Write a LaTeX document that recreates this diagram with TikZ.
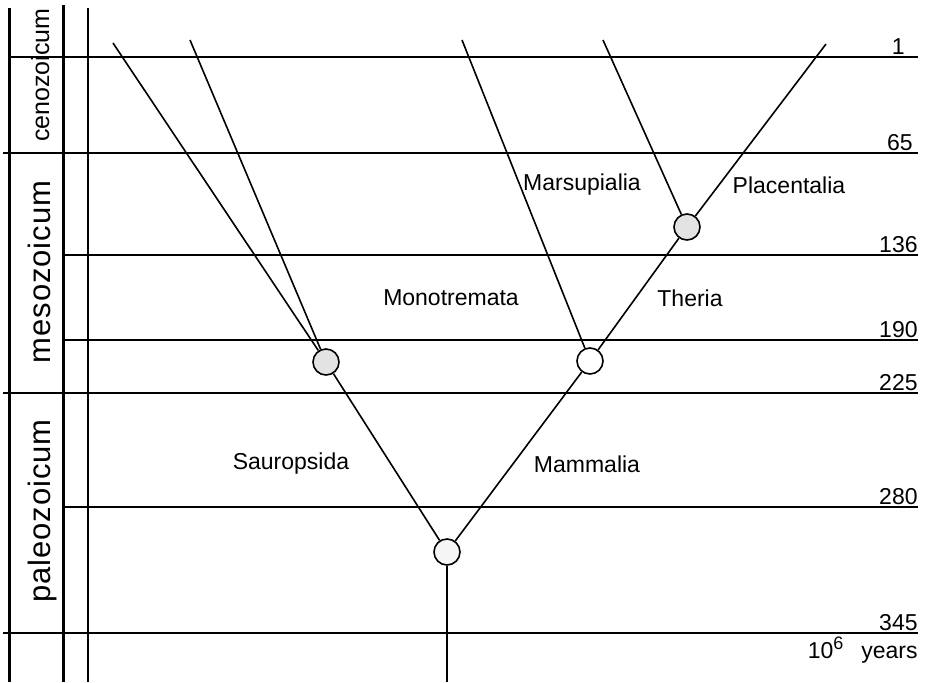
\documentclass[tikz,border=0pt]{standalone}
\usepackage{fontspec}
\setmainfont{Liberation Sans}
\newfontfamily\erafont[LetterSpace=3]{Liberation Sans}

\tikzset{
  fork/.style={circle,draw,line width=0.8pt,minimum size=13pt,inner sep=0pt},
  branch/.style={line width=0.8pt},
  timeline/.style={line width=0.6pt},
  era/.style={rotate=90,anchor=base,inner sep=0pt},
}

\begin{document}
\begin{tikzpicture}[x=0.5pt,y=-0.5pt,font=\fontsize{11.5}{13}\selectfont]
    \useasboundingbox (0,0) rectangle (932,682);

    % era columns
    \draw[line width=1.5pt] (9,8) -- (9,682);
    \draw[line width=1.5pt] (63,5) -- (63,682);
    \draw[line width=0.7pt] (88,8) -- (88,682);

    % time lines with ages (10^6 years)
    \foreach \y/\xs/\xe/\age in {57/10/905/1, 153/3/913/65, 255/63/918/136,
                                340/63/918/190, 393/3/918/225, 507/63/918/280, 633/3/918/345} {
        \draw[timeline] (\xs,\y) -- (918,\y);
        \node[anchor=base east,inner sep=0pt] at (\xe,\y-3) {\age};
    }
    \node[anchor=base east,inner sep=0pt] (unit) at (918,658)
        {10\raisebox{4.5pt}{\fontsize{9}{9}\selectfont 6}\hspace{9pt}years};

    % era names
    \node[era,font=\fontsize{12.5}{15}\selectfont] (ceno) at (49,75) {cenozoicum};
    \node[era,font=\erafont\fontsize{15.5}{18}\selectfont] (meso) at (50,272) {mesozoicum};
    \node[era,font=\erafont\fontsize{15.5}{18}\selectfont] (paleo) at (50,511) {paleozoicum};

    % branch points
    \node[fork,fill=gray!8]  (root) at (447,552) {};
    \node[fork,fill=gray!22] (saur) at (326,362) {};
    \node[fork,fill=white]   (mamm) at (590,361) {};
    \node[fork,fill=gray!22] (plac) at (687,227) {};

    % free ends of the lineages
    \coordinate (t1) at (113,43);
    \coordinate (t2) at (190,40);
    \coordinate (t3) at (462,40);
    \coordinate (t4) at (603,40);
    \coordinate (t5) at (826,44);
    \coordinate (bot) at (447,682);

    % tree
    \draw[branch] (root) -- (bot);
    \draw[branch] (root) -- (saur);
    \draw[branch] (root) -- (mamm);
    \draw[branch] (saur) -- (t1);
    \draw[branch] (saur) -- (t2);
    \draw[branch] (mamm) -- (t3);
    \draw[branch] (mamm) -- (plac);
    \draw[branch] (plac) -- (t4);
    \draw[branch] (plac) -- (t5);

    % group names
    \node (lsaur) at (291,464) {Sauropsida};
    \node (lmamm) at (587,464) {Mammalia};
    \node (lmono) at (451,298) {Monotremata};
    \node (lther) at (690,298) {Theria};
    \node (lmars) at (582,185) {Marsupialia};
    \node (lplac) at (789,185) {Placentalia};
\end{tikzpicture}
\end{document}
